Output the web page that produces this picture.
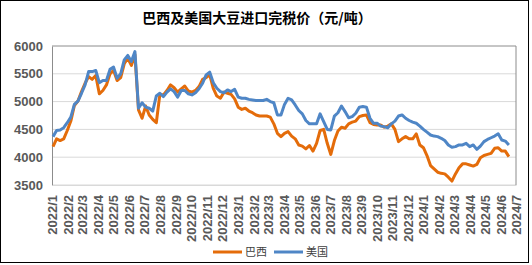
<!DOCTYPE html>
<html lang="zh">
  <head>
    <meta charset="utf-8" />
    <title>巴西及美国大豆进口完税价</title>
    <script src="https://cdn.jsdelivr.net/npm/d3@7"></script>
    <style type="text/css">
      body {
        margin: 0;
        background: #fff;
      }
      .tick text {
        font-family: "Liberation Sans", Arial, sans-serif;
        font-weight: bold;
        font-size: 13px;
        fill: #595959;
      }
      .line {
        fill: none;
        stroke-width: 3;
        stroke-linejoin: round;
      }
    </style>
  </head>
  <body>
    <div id="chart"></div>
    <script type="text/javascript">
      /*******************************************
       * data (weekly)
       *******************************************/

      const firstWeek = "2022-01-03";

      const brazil = [
        4190, 4330, 4300, 4330, 4480, 4650, 4930, 5010, 5180, 5330,
        5450, 5400, 5470, 5140, 5200, 5300, 5500, 5560, 5380, 5430,
        5680, 5780, 5650, 5850, 4850, 4700, 4920, 4760, 4680, 4620,
        5130, 5120, 5200, 5300, 5250, 5170, 5230, 5280, 5190, 5170,
        5200, 5270, 5400, 5430, 5480, 5240, 5100, 5060, 5170, 5150,
        5130, 5050, 4900, 4860, 4880, 4830, 4800, 4760, 4740, 4740,
        4740, 4720, 4600, 4430, 4370, 4430, 4460, 4380, 4330, 4220,
        4200, 4150, 4210, 4110, 4250, 4480, 4500, 4250, 4050, 4300,
        4470, 4540, 4520, 4600, 4630, 4650, 4730, 4750, 4760, 4620,
        4590, 4580, 4580, 4540, 4560, 4600, 4500, 4280, 4330, 4370,
        4330, 4330, 4420, 4220, 4170, 4030, 3850, 3790, 3730, 3710,
        3700, 3640, 3570, 3700, 3810, 3880, 3880, 3860, 3840, 3870,
        3990, 4030, 4050, 4070, 4160, 4170, 4110, 4110, 4010,
      ];

      const usa = [
        4370, 4480, 4490, 4530, 4620, 4720, 4950, 5010, 5150, 5300,
        5540, 5540, 5560, 5340, 5380, 5380, 5580, 5620, 5420, 5500,
        5750, 5830, 5720, 5900, 4880, 4980, 4900, 4880, 4830, 5100,
        5150, 5090, 5170, 5230, 5180, 5080, 5200, 5200, 5140, 5120,
        5160, 5230, 5330, 5480, 5530, 5340, 5240, 5180, 5160, 5210,
        5180, 5220, 5080, 5060, 5060, 5040, 5030, 5020, 5020, 5020,
        5040, 5000, 4980, 4760, 4760, 4950, 5060, 5030, 4940, 4840,
        4780, 4660, 4600, 4600, 4600, 4780, 4640, 4500, 4490, 4740,
        4800, 4920, 4820, 4710, 4730, 4790, 4900, 4910, 4900, 4700,
        4610, 4610, 4560, 4550, 4530, 4600, 4650, 4740, 4760, 4700,
        4660, 4630, 4610, 4560, 4500, 4450, 4400, 4380, 4370, 4340,
        4300, 4220, 4180, 4190, 4220, 4220, 4250, 4190, 4220, 4140,
        4200, 4280, 4320, 4350, 4380, 4420, 4310, 4290, 4220,
      ];

      const seriesNames = ["巴西", "美国"];
      const yTicks = [3500, 4000, 4500, 5000, 5500, 6000];

      const dates = brazil.map((d, i) =>
        d3.timeDay.offset(new Date(firstWeek + "T00:00"), 7 * i)
      );

      /********************************************
       * svg
       ********************************************/

      const width = 532;
      const height = 265;
      const margin = { top: 46, right: 16, bottom: 80, left: 52 };

      const svg = d3
        .select("#chart")
        .append("svg")
        .attr("width", width)
        .attr("height", height);

      svg
        .append("rect")
        .attr("x", 0.5)
        .attr("y", 0.5)
        .attr("width", 528)
        .attr("height", 262)
        .attr("fill", "#fff")
        .attr("stroke", "#000");

      svg
        .append("text")
        .attr("x", 257)
        .attr("y", 23)
        .attr("text-anchor", "middle")
        .style("font-family", "'Noto Sans CJK SC', sans-serif")
        .style("font-weight", "bold")
        .style("font-size", "14px")
        .attr("fill", "#000")
        .text("巴西及美国大豆进口完税价（元/吨）");

      /*********************************************
       * scales
       **********************************************/

      const xScale = d3
        .scaleTime()
        .domain([new Date(2022, 0, 1), new Date(2024, 6, 1)])
        .range([margin.left, width - margin.right]);

      const yScale = d3
        .scaleLinear()
        .domain([3500, 6000])
        .range([height - margin.bottom, margin.top]);

      const colors = ["#E46C0A", "#4F86C6"];

      /*******************************************
       * grid + axes
       *******************************************/

      svg
        .append("g")
        .selectAll("line")
        .data(yTicks)
        .enter()
        .append("line")
        .attr("x1", margin.left)
        .attr("x2", width - margin.right)
        .attr("y1", (d) => yScale(d))
        .attr("y2", (d) => yScale(d))
        .attr("stroke", (d) => (d === 6000 ? "#8c8c8c" : "#d9d9d9"));

      // right frame edge
      svg
        .append("line")
        .attr("x1", width - margin.right)
        .attr("x2", width - margin.right)
        .attr("y1", margin.top)
        .attr("y2", height - margin.bottom)
        .attr("stroke", "#8c8c8c");

      const yAxis = d3
        .axisLeft(yScale)
        .tickValues(yTicks)
        .tickFormat(d3.format("d"))
        .tickSize(0)
        .tickPadding(9);
      const gy = svg
        .append("g")
        .attr("transform", `translate(${margin.left}, 0)`)
        .call(yAxis);
      gy.select(".domain").attr("stroke", "#8c8c8c");

      const xAxis = d3
        .axisBottom(xScale)
        .ticks(d3.timeMonth.every(1))
        .tickSize(0)
        .tickFormat((d) => `${d.getFullYear()}/${d.getMonth() + 1}`);
      const gx = svg
        .append("g")
        .attr("transform", `translate(0, ${height - margin.bottom})`)
        .call(xAxis);
      gx.select(".domain").attr("stroke", "#d9d9d9");
      gx.selectAll("text")
        .attr("transform", "rotate(-90)")
        .attr("text-anchor", "end")
        .attr("x", -10)
        .attr("y", 0)
        .attr("dy", "0.35em");

      /*******************************************
       * lines
       *******************************************/

      const line = d3
        .line()
        .x((d, i) => xScale(dates[i]))
        .y((d) => yScale(d));

      svg
        .selectAll("path.line")
        .data([brazil, usa])
        .enter()
        .append("path")
        .attr("class", "line")
        .attr("d", line)
        .attr("stroke", (d, i) => colors[i]);

      /*******************************************
       * legend
       *******************************************/

      const legend = svg
        .append("g")
        .selectAll("g")
        .data(seriesNames)
        .enter()
        .append("g")
        .attr("transform", (d, i) => `translate(${213 + i * 61}, 252)`);

      legend
        .append("line")
        .attr("x1", 0)
        .attr("x2", 29)
        .attr("stroke", (d, i) => colors[i])
        .attr("stroke-width", 3);

      legend
        .append("text")
        .attr("x", 32)
        .attr("dy", "0.35em")
        .style("font-family", "'Noto Sans CJK SC', sans-serif")
        .style("font-size", "11px")
        .attr("fill", "#404040")
        .text((d) => d);
    </script>
  </body>
</html>
